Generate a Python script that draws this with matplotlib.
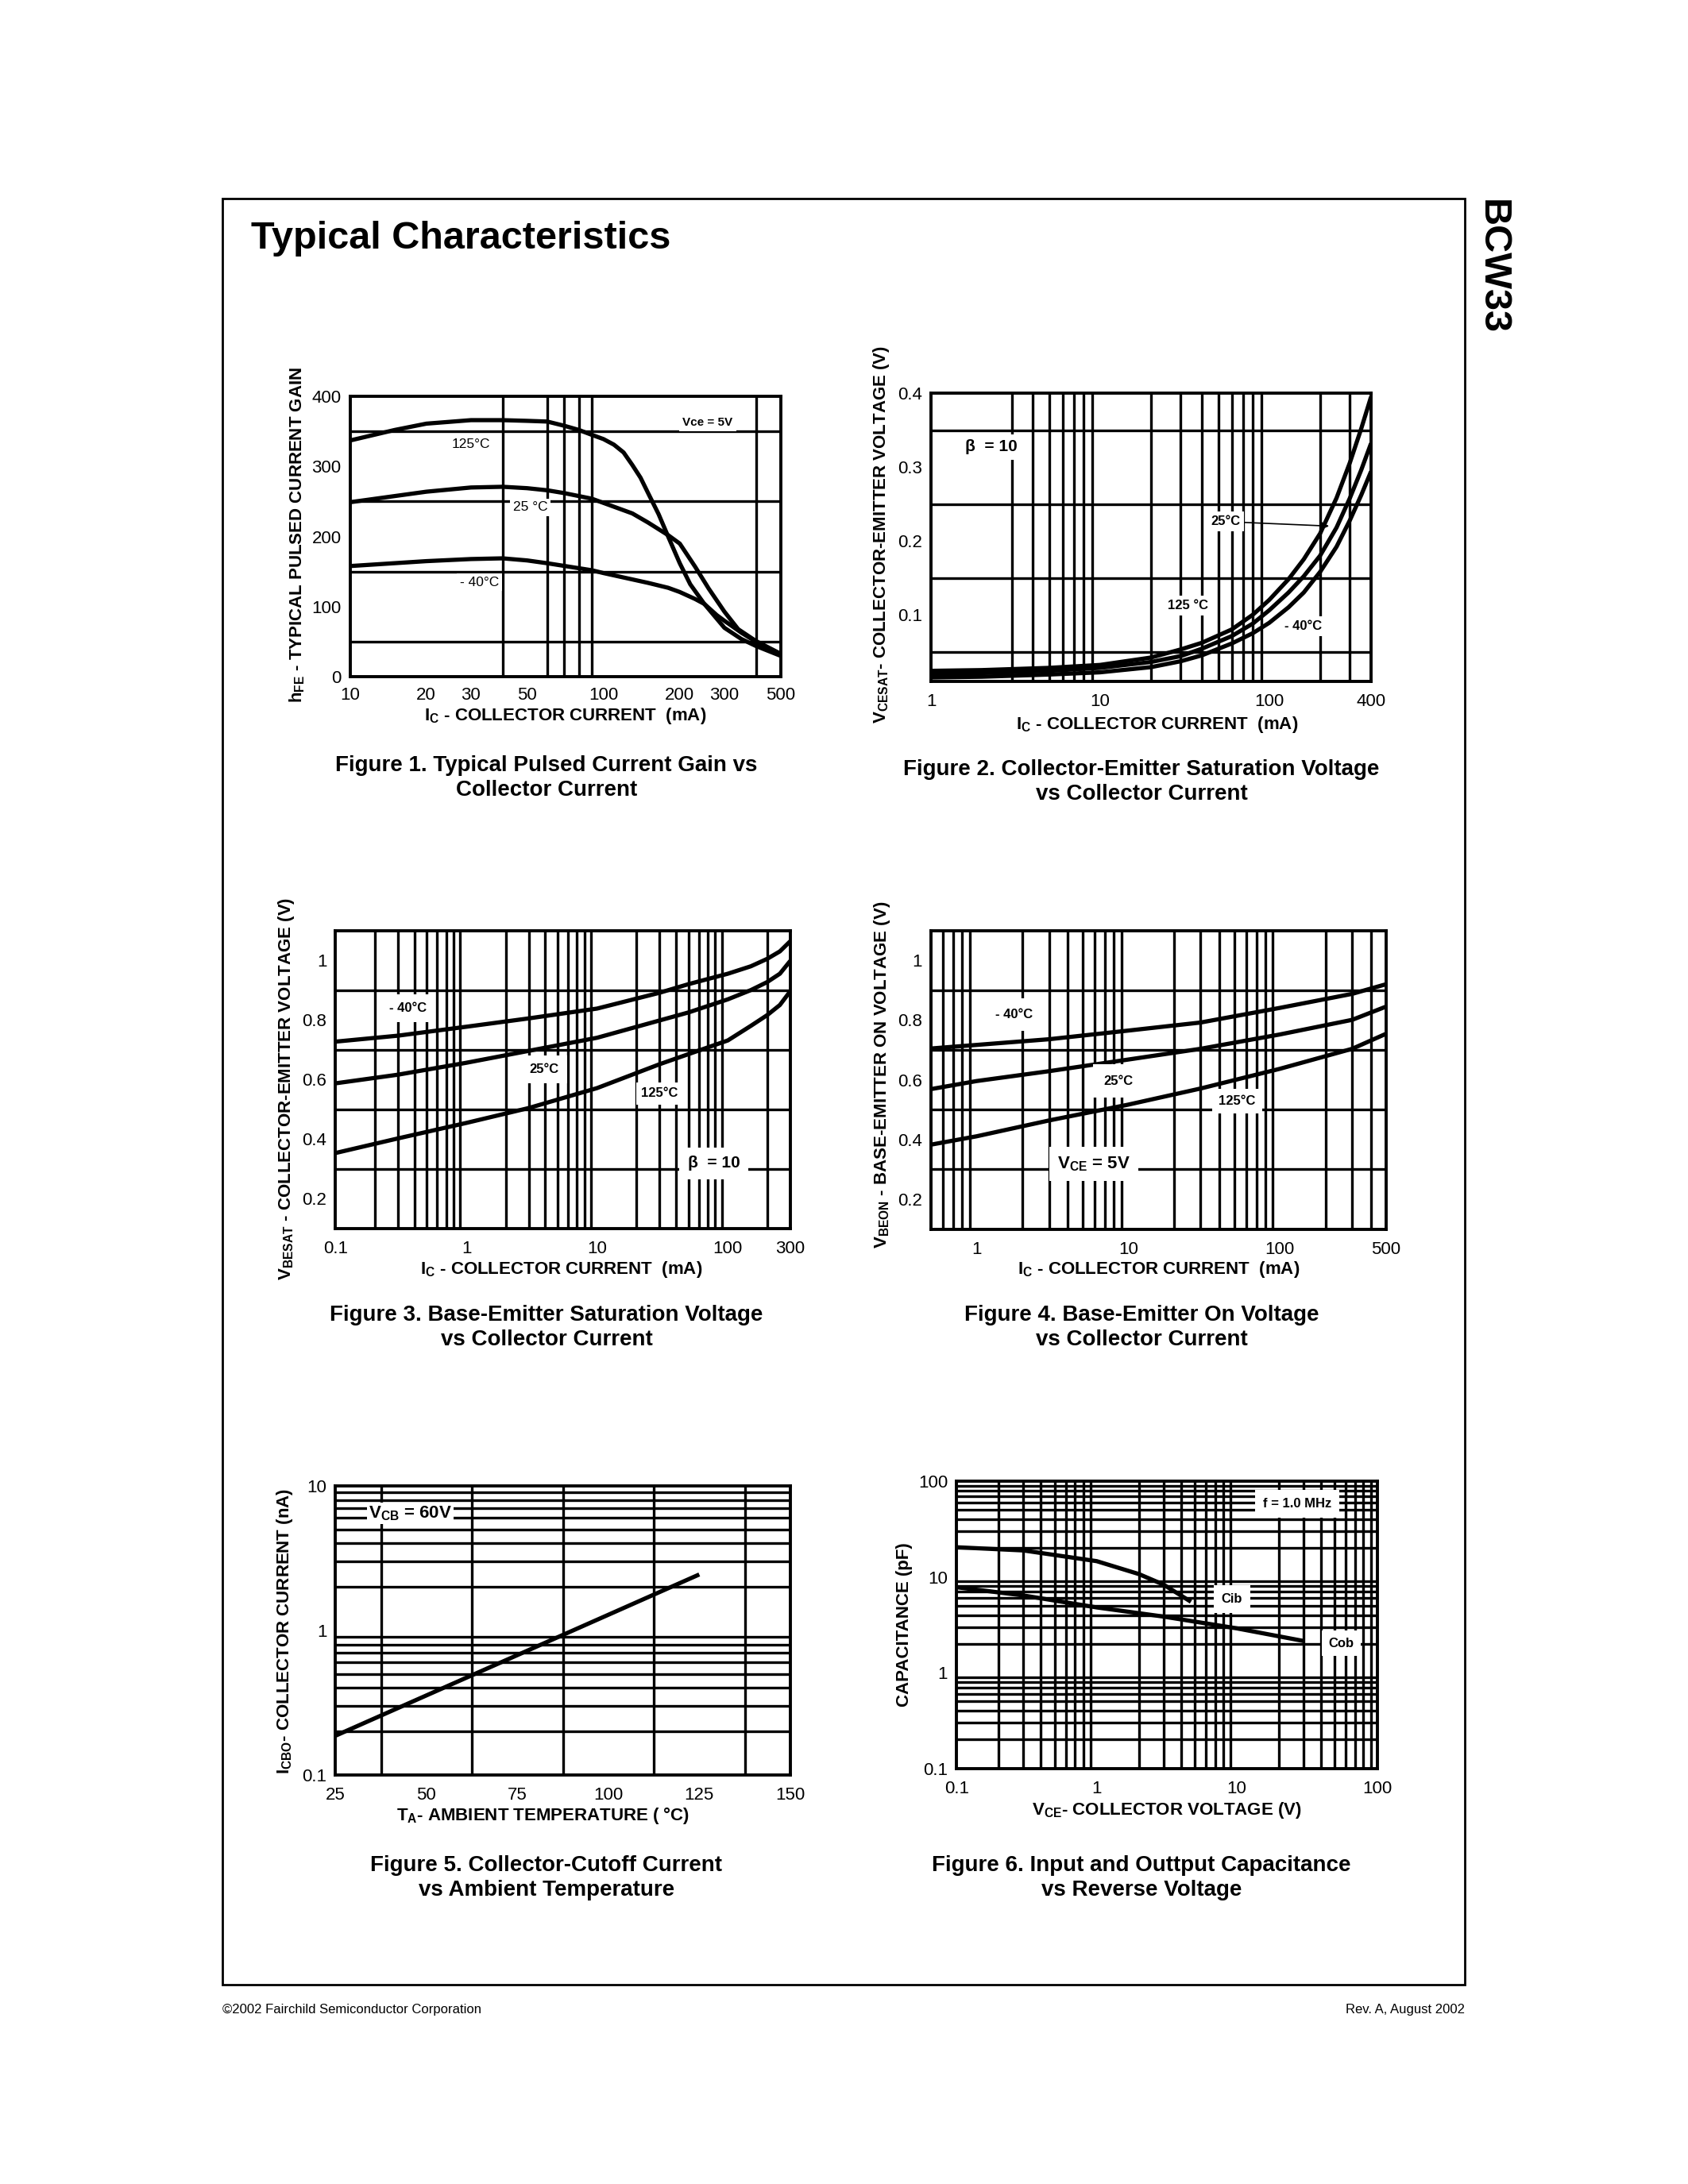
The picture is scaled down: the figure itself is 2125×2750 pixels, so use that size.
import numpy as np
import matplotlib
matplotlib.use("Agg")
import matplotlib.pyplot as plt
from matplotlib.ticker import NullFormatter
from matplotlib.patches import Rectangle

plt.rcParams['font.family'] = ['Liberation Sans', 'DejaVu Sans']
plt.rcParams['mathtext.fontset'] = 'custom'
plt.rcParams['mathtext.rm'] = 'Liberation Sans:bold'
plt.rcParams['mathtext.it'] = 'Liberation Sans:bold'
plt.rcParams['mathtext.bf'] = 'Liberation Sans:bold'

W, H = 2125, 2750

# Figure 1 - hFE vs Ic
f1_ic125 = [10, 15, 20, 30, 40, 50, 60, 70, 80, 90, 100, 110, 120, 130, 140, 150, 165, 180, 200, 220, 250, 300, 350, 400, 500]
f1_125 = [337, 352, 361, 366, 366, 365, 364, 358, 352, 345, 339, 331, 320, 302, 284, 262, 232, 200, 162, 132, 104, 70, 54, 44, 30]
f1_ic25 = [10, 20, 30, 40, 50, 60, 70, 90, 100, 130, 150, 180, 200, 230, 260, 300, 340, 400, 500]
f1_25 = [249, 264, 270, 271, 269, 266, 262, 254, 248, 233, 220, 202, 190, 157, 126, 93, 68, 51, 33]
f1_icm40 = [10, 20, 30, 40, 50, 60, 90, 100, 150, 180, 200, 230, 250, 280, 300, 350, 400, 500]
f1_m40 = [158, 165, 168, 169, 166, 162, 152, 148, 134, 127, 121, 111, 104, 88, 80, 63, 50, 31]

# Figure 2 - Vce(sat) vs Ic
f2_ic = [1, 2, 5, 10, 20, 30, 40, 60, 80, 100, 130, 160, 200, 250, 300, 350, 400]
f2_a = [0.024, 0.025, 0.028, 0.032, 0.042, 0.053, 0.062, 0.080, 0.100, 0.120, 0.148, 0.175, 0.210, 0.258, 0.306, 0.352, 0.395]
f2_b = [0.0195, 0.021, 0.024, 0.028, 0.036, 0.044, 0.054, 0.071, 0.088, 0.106, 0.130, 0.152, 0.180, 0.218, 0.258, 0.296, 0.332]
f2_c = [0.015, 0.016, 0.019, 0.022, 0.029, 0.037, 0.045, 0.061, 0.075, 0.089, 0.110, 0.130, 0.158, 0.192, 0.228, 0.262, 0.294]

# Figure 3 - Vbe(sat) vs Ic
f3_ic = [0.1, 0.3, 1, 3, 10, 30, 50, 100, 150, 200, 250, 300]
f3_m40 = [0.727, 0.747, 0.777, 0.805, 0.838, 0.891, 0.920, 0.955, 0.980, 1.005, 1.030, 1.064]
f3_25 = [0.587, 0.616, 0.656, 0.696, 0.740, 0.798, 0.825, 0.869, 0.900, 0.927, 0.955, 0.998]
f3_125 = [0.353, 0.402, 0.454, 0.504, 0.571, 0.651, 0.685, 0.731, 0.780, 0.816, 0.850, 0.896]

# Figure 4 - Vbe(on) vs Ic
f4_ic = [0.5, 1, 3, 10, 30, 100, 300, 500]
f4_m40 = [0.705, 0.717, 0.736, 0.765, 0.792, 0.841, 0.888, 0.920]
f4_25 = [0.569, 0.596, 0.629, 0.668, 0.704, 0.752, 0.801, 0.845]
f4_125 = [0.383, 0.411, 0.464, 0.517, 0.571, 0.637, 0.704, 0.754]

# Figure 5 - Icbo vs Ta
f5_ta = [25, 125]
f5_icbo = [0.187, 2.44]

# Figure 6 - capacitance vs Vce
f6_vcib = [0.1, 0.3, 1, 2, 3, 4.7]
f6_cib = [20.4, 18.9, 14.6, 10.7, 8.3, 5.5]
f6_vcob = [0.1, 0.3, 1, 3, 10, 30]
f6_cob = [7.8, 6.4, 4.8, 3.85, 2.9, 2.14]


def decades(lo, hi):
    vals = []
    d = lo
    while d < hi:
        vals += [d * k for k in range(1, 10)]
        d *= 10
    return vals


fig = plt.figure(figsize=(W / 100, H / 100), dpi=100)


def panel(box, logx, logy, xlim, ylim, xgrid, ygrid, xt, xtl, yt, ytl, xpad=11):
    L, T, R, B = box
    ax = fig.add_axes([L / W, 1 - B / H, (R - L) / W, (B - T) / H])
    if logx:
        ax.set_xscale('log')
    if logy:
        ax.set_yscale('log')
    ax.set_xlim(xlim)
    ax.set_ylim(ylim)
    ax.set_xticks(xgrid, minor=True)
    ax.set_yticks(ygrid, minor=True)
    ax.set_xticks(xt, labels=xtl)
    ax.set_yticks(yt, labels=ytl)
    ax.xaxis.set_minor_formatter(NullFormatter())
    ax.yaxis.set_minor_formatter(NullFormatter())
    ax.tick_params(which='both', length=0, labelsize=16)
    ax.tick_params(axis='x', pad=xpad)
    ax.tick_params(axis='y', pad=8)
    ax.grid(which='minor', color='black', lw=2.4)
    ax.set_axisbelow(True)
    for s in ax.spines.values():
        s.set_linewidth(2.8)
    return ax


def curve(ax, x, y):
    ax.plot(x, y, color='black', lw=3.8, solid_capstyle='butt', solid_joinstyle='round')


def tag(ax, x, y, s, size=12, weight='bold', pad=0.25):
    ax.text(x, y, s, fontsize=size, fontweight=weight, ha='center', va='center',
            bbox=dict(boxstyle='square,pad=%s' % pad, fc='white', ec='none'))


def labels(ax, xl, xpos, yl, ypos):
    ax.set_xlabel(xl, fontsize=16, fontweight='bold', ha='center', va='center')
    ax.xaxis.set_label_coords(*xpos)
    ax.set_ylabel(yl, fontsize=16, fontweight='bold', ha='center', va='center')
    ax.yaxis.set_label_coords(*ypos)


ic_label = r'I$_{\rm C}$ - COLLECTOR CURRENT  (mA)'

# ---- Figure 1
ax1 = panel((440.7, 499, 982.7, 852.3), True, False, (10, 500), (0, 400),
            [20, 30, 40, 50, 60, 70, 80, 90, 100, 200, 300, 400], [50, 100, 150, 200, 250, 300, 350],
            [10, 20, 30, 50, 100, 200, 300, 500], ['10', '20', '30', '50', '100', '200', '300', '500'],
            [0, 100, 200, 300, 400], ['0', '100', '200', '300', '400'], xpad=9)
curve(ax1, f1_ic125, f1_125)
curve(ax1, f1_ic25, f1_25)
curve(ax1, f1_icm40, f1_m40)
tag(ax1, 30, 332, '125°C', size=12.5, weight='normal', pad=0.2)
tag(ax1, 51.5, 242, '25 °C', size=12.5, weight='normal', pad=0.2)
tag(ax1, 32.4, 135, '- 40°C', size=12.5, weight='normal', pad=0.2)
tag(ax1, 258, 363, 'Vce = 5V', size=11, pad=0.3)
labels(ax1, ic_label, (0.499, -0.140), r'h$_{\rm FE}$ - TYPICAL PULSED CURRENT GAIN', (-0.123, 0.505))

# ---- Figure 2
ax2 = panel((1172, 495, 1726, 857.7), True, False, (1, 400), (0.01, 0.4),
            [3, 4, 5, 6, 7, 8, 9, 10, 20, 30, 40, 50, 60, 70, 80, 90, 100, 200, 300],
            [0.05, 0.1, 0.15, 0.2, 0.25, 0.3, 0.35],
            [1, 10, 100, 400], ['1', '10', '100', '400'],
            [0.1, 0.2, 0.3, 0.4], ['0.1', '0.2', '0.3', '0.4'])
curve(ax2, f2_ic, f2_a)
curve(ax2, f2_ic, f2_b)
curve(ax2, f2_ic, f2_c)
tag(ax2, 2.27, 0.327, 'β  = 10', size=15, pad=0.3)
tag(ax2, 33.2, 0.112, '125 °C', pad=0.3)
tag(ax2, 158.7, 0.0845, '- 40°C', pad=0.3)
ax2.annotate('25°C', xy=(226, 0.22), xytext=(55.2, 0.226), fontsize=12, fontweight='bold',
             ha='center', va='center',
             bbox=dict(boxstyle='square,pad=0.3', fc='white', ec='none'),
             arrowprops=dict(arrowstyle='-|>', color='black', lw=1.2, mutation_scale=14, shrinkA=0, shrinkB=0))
labels(ax2, ic_label, (0.514, -0.150), r'V$_{\rm CESAT}$- COLLECTOR-EMITTER VOLTAGE (V)', (-0.112, 0.509))

# ---- Figure 3
y_grid34 = [0.2, 0.3, 0.4, 0.5, 0.6, 0.7, 0.8, 0.9, 1.0]
y_t34 = [0.2, 0.4, 0.6, 0.8, 1.0]
y_tl34 = ['0.2', '0.4', '0.6', '0.8', '1']
ax3 = panel((422.4, 1171.7, 994.8, 1546.7), True, False, (0.1, 300), (0.1, 1.1),
            decades(0.1, 100)[1:] + [100, 200], y_grid34,
            [0.1, 1, 10, 100, 300], ['0.1', '1', '10', '100', '300'], y_t34, y_tl34)
curve(ax3, f3_ic, f3_m40)
curve(ax3, f3_ic, f3_25)
curve(ax3, f3_ic, f3_125)
tag(ax3, 0.356, 0.84, '- 40°C', pad=0.6)
tag(ax3, 3.94, 0.633, '25°C', pad=0.6)
tag(ax3, 30.1, 0.553, '125°C', pad=0.4)
tag(ax3, 78.3, 0.318, 'β  = 10', size=15, pad=0.5)
labels(ax3, ic_label, (0.497, -0.137), r'V$_{\rm BESAT}$ - COLLECTOR-EMITTER VOLTAGE (V)', (-0.109, 0.469))

# ---- Figure 4
ax4 = panel((1172, 1171.7, 1744.6, 1547.7), True, False, (0.5, 500), (0.1, 1.1),
            [0.6, 0.7, 0.8, 0.9] + decades(1, 100) + [100, 200, 300, 400], y_grid34,
            [1, 10, 100, 500], ['1', '10', '100', '500'], y_t34, y_tl34)
curve(ax4, f4_ic, f4_m40)
curve(ax4, f4_ic, f4_25)
curve(ax4, f4_ic, f4_125)
tag(ax4, 1.76, 0.819, '- 40°C', pad=0.8)
tag(ax4, 8.63, 0.596, '25°C', pad=0.8)
tag(ax4, 52.2, 0.529, '125°C', pad=0.5)
tag(ax4, 5.95, 0.319, r'V$_{\rm CE}$ = 5V', size=16, pad=0.45)
labels(ax4, ic_label, (0.501, -0.134), r'V$_{\rm BEON}$ - BASE-EMITTER ON VOLTAGE (V)', (-0.108, 0.518))

# ---- Figure 5
ax5 = panel((422.4, 1871, 994.8, 2235), False, True, (25, 150), (0.1, 10),
            list(np.arange(37.5, 150, 12.5)), decades(0.1, 10)[1:],
            [25, 50, 75, 100, 125, 150], ['25', '50', '75', '100', '125', '150'],
            [0.1, 1, 10], ['0.1', '1', '10'])
curve(ax5, f5_ta, f5_icbo)
tag(ax5, 45.5, 6.43, r'V$_{\rm CB}$ = 60V', size=16, pad=0.1)
labels(ax5, r'T$_{\rm A}$- AMBIENT TEMPERATURE ( °C)', (0.457, -0.140),
       r'I$_{\rm CBO}$- COLLECTOR CURRENT (nA)', (-0.111, 0.497))

# ---- Figure 6
ax6 = panel((1204.2, 1865, 1733.6, 2226.7), True, True, (0.1, 100), (0.1, 100),
            decades(0.1, 100)[1:], decades(0.1, 100)[1:],
            [0.1, 1, 10, 100], ['0.1', '1', '10', '100'],
            [0.1, 1, 10, 100], ['0.1', '1', '10', '100'])
curve(ax6, f6_vcib, f6_cib)
curve(ax6, f6_vcob, f6_cob)
tag(ax6, 27, 57.5, 'f = 1.0 MHz', pad=0.6)
tag(ax6, 9.23, 5.82, 'Cib', pad=0.6)
tag(ax6, 55.3, 2.03, 'Cob', pad=0.5)
labels(ax6, r'V$_{\rm CE}$- COLLECTOR VOLTAGE (V)', (0.5, -0.145), 'CAPACITANCE (pF)', (-0.125, 0.5))

# ---- page furniture
fig.add_artist(Rectangle((280 / W, 1 - 2499 / H), (1844 - 280) / W, (2499 - 250) / H,
                         transform=fig.transFigure, fill=False, lw=2.0, ec='black'))
fig.text(316 / W, 1 - 313 / H, 'Typical Characteristics', fontsize=35, fontweight='bold',
         ha='left', va='baseline')
fig.text(1878 / W, 1 - 336 / H, 'BCW33', fontsize=35, fontweight='bold', rotation=-90,
         ha='center', va='center')

captions = [
    (688, 951, 'Figure 1. Typical Pulsed Current Gain vs\nCollector Current'),
    (1437, 956, 'Figure 2. Collector-Emitter Saturation Voltage\nvs Collector Current'),
    (688, 1643, 'Figure 3. Base-Emitter Saturation Voltage\nvs Collector Current'),
    (1437, 1643, 'Figure 4. Base-Emitter On Voltage\nvs Collector Current'),
    (688, 2336, 'Figure 5. Collector-Cutoff Current\nvs Ambient Temperature'),
    (1437, 2336, 'Figure 6. Input and Outtput Capacitance\nvs Reverse Voltage'),
]
for cx, cy, s in captions:
    fig.text(cx / W, 1 - cy / H, s, fontsize=20, fontweight='bold', ha='center', va='top',
             linespacing=1.25)

fig.text(280 / W, 1 - 2535 / H, '©2002 Fairchild Semiconductor Corporation', fontsize=12,
         ha='left', va='baseline')
fig.text(1844 / W, 1 - 2535 / H, 'Rev. A, August 2002', fontsize=12, ha='right', va='baseline')

fig.savefig('out.png', dpi=100, facecolor='white')
